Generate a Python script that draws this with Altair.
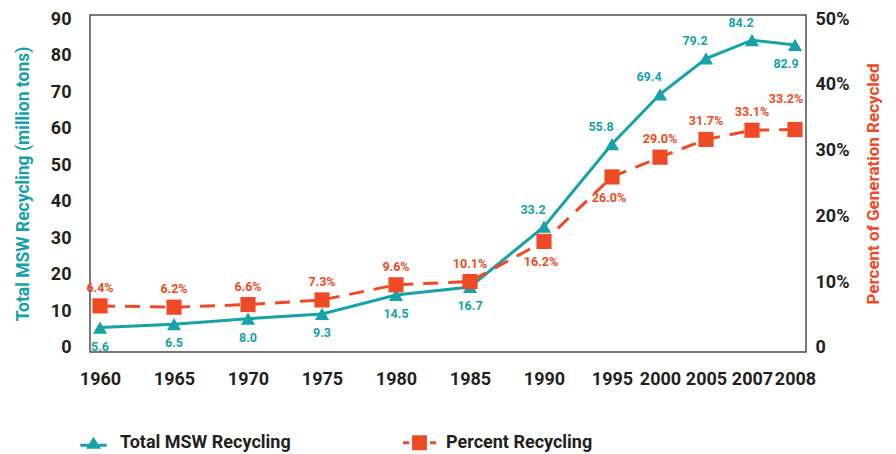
import altair as alt
import pandas as pd

years = [1960, 1965, 1970, 1975, 1980, 1985, 1990, 1995, 2000, 2005, 2007, 2008]
tons = [5.6, 6.5, 8.0, 9.3, 14.5, 16.7, 33.2, 55.8, 69.4, 79.2, 84.2, 82.9]
pct = [6.4, 6.2, 6.6, 7.3, 9.6, 10.1, 16.2, 26.0, 29.0, 31.7, 33.1, 33.2]
series_names = ["Total MSW Recycling", "Percent Recycling"]
left_ticks = [0, 10, 20, 30, 40, 50, 60, 70, 80, 90]
right_ticks = [0, 0.1, 0.2, 0.3, 0.4, 0.5]

TEAL = "#16A2A6"
ORANGE = "#EE4A25"
DARK = "#231F20"
FONT = "Roboto, 'Liberation Sans', sans-serif"

# legend symbols: marker with a short line through it
SYM_TRI = ("M0,-0.36 L0.45,0.36 L-0.45,0.36 Z "
           "M-0.8,0.06 L0.8,0.06 L0.8,0.24 L-0.8,0.24 Z")
SYM_SQ = ("M-0.45,-0.45 L0.45,-0.45 L0.45,0.45 L-0.45,0.45 Z "
          "M-1,-0.09 L-0.64,-0.09 L-0.64,0.09 L-1,0.09 Z "
          "M0.64,-0.09 L1,-0.09 L1,0.09 L0.64,0.09 Z")

df_t = pd.DataFrame({"year": years, "value": tons, "series": series_names[0]})
df_p = pd.DataFrame({"year": years, "value": [v / 100 for v in pct], "series": series_names[1]})
df_leg = pd.DataFrame({"series": series_names})

x = alt.X(
    "year:Q",
    scale=alt.Scale(domain=[1960, 1990, 1995, 2000, 2005, 2007, 2008],
                    range=[10, 454, 522, 570, 616, 662, 705], nice=False, zero=False),
    axis=alt.Axis(values=years, format="d", title=None, ticks=False, domain=False, grid=False,
                  labelPadding=18, labelOverlap=False, labelFlush=False, labelFontSize=18),
)

legend = alt.Legend(title=None, orient="none", legendX=-13, legendY=411, direction="horizontal",
                    symbolSize=1089, labelFontSize=18, labelFont=FONT, labelFontWeight="bold",
                    labelColor=DARK, columnPadding=112, labelOffset=10, labelLimit=400,
                    symbolOpacity=1, symbolStrokeWidth=0)
color = alt.Color("series:N", scale=alt.Scale(domain=series_names, range=[TEAL, ORANGE]), legend=legend)
shape = alt.Shape("series:N", scale=alt.Scale(domain=series_names, range=[SYM_TRI, SYM_SQ]), legend=legend)

y_left = alt.Y(
    "value:Q",
    scale=alt.Scale(domain=[-1.1, 91.1], nice=False, zero=False),
    axis=alt.Axis(values=left_ticks, title="Total MSW Recycling (million tons)", titleColor=TEAL,
                  titleFontSize=17.5, titlePadding=18, labelPadding=19, ticks=False, domain=False,
                  grid=False, labelFontSize=18),
)
y_right = alt.Y(
    "value:Q",
    scale=alt.Scale(domain=[-0.0061, 0.5061], nice=False, zero=False),
    axis=alt.Axis(values=right_ticks, orient="right", title="Percent of Generation Recycled",
                  titleColor=ORANGE, titleFontSize=17, titleAngle=270, titlePadding=34,
                  labelPadding=9, ticks=False, domain=False, grid=False, labelFontSize=18,
                  labelExpr="datum.value == 0 ? '0' : format(datum.value, '.0%')"),
)

lbl = dict(fontSize=12.5, fontWeight="bold", font=FONT)

base_t = alt.Chart(df_t).encode(x=x, y=y_left, text=alt.Text("value:Q", format=".1f"))
line_t = base_t.mark_line(color=TEAL, strokeWidth=3)
pts_t = base_t.mark_point(filled=True, size=200, opacity=1, shape="triangle-up", color=TEAL)
txt_t_below = base_t.transform_filter("datum.year <= 1985").mark_text(color=TEAL, dy=19, **lbl)
txt_t_end = base_t.transform_filter("datum.year == 2008").mark_text(color=TEAL, dy=19, dx=-9, **lbl)
txt_t_above = base_t.transform_filter("datum.year > 1985 && datum.year < 2008").mark_text(
    color=TEAL, dy=-17, dx=-11, **lbl)
left = alt.layer(line_t, pts_t, txt_t_below, txt_t_end, txt_t_above)

base_p = alt.Chart(df_p).encode(x=x, y=y_right, text=alt.Text("value:Q", format=".1%"))
line_p = base_p.mark_line(color=ORANGE, strokeWidth=3, strokeDash=[15, 10])
pts_p = base_p.mark_point(filled=True, size=230, opacity=1, shape="square", color=ORANGE)
txt_p_below = base_p.transform_filter("datum.year == 1990 || datum.year == 1995").mark_text(
    color=ORANGE, dy=21, dx=-3, **lbl)
txt_p_above = base_p.transform_filter(
    "datum.year != 1990 && datum.year != 1995 && datum.year != 2008").mark_text(
    color=ORANGE, dy=-18, **lbl)
txt_p_end = base_p.transform_filter("datum.year == 2008").mark_text(color=ORANGE, dy=-31, dx=-9, **lbl)
right = alt.layer(line_p, pts_p, txt_p_below, txt_p_above, txt_p_end)

leg_layer = alt.Chart(df_leg).mark_point(filled=True, opacity=0).encode(color=color, shape=shape)

chart = alt.layer(left, right, leg_layer).resolve_scale(y="independent").properties(
    width=716, height=337, padding={"left": 6, "top": 2, "right": 5, "bottom": 3}
).configure_view(fill="#FFF8C4", stroke="#4D4D4D", strokeWidth=1.5).configure_axis(
    labelFont=FONT, titleFont=FONT, labelFontWeight="bold", titleFontWeight="bold", labelColor=DARK
).configure_text(font=FONT)

chart.save("out.html", embed_options={"renderer": "svg", "actions": False})
